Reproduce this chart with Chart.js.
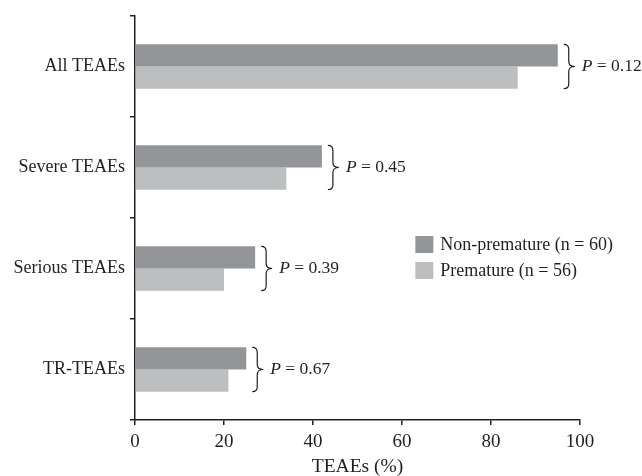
<!DOCTYPE html>
<html><head><meta charset="utf-8">
<script src="https://cdn.jsdelivr.net/npm/chart.js@4"></script>
<style>html,body{margin:0;padding:0;background:#fff}#w{width:642px;height:476px}</style>
</head><body><div id="w"><canvas id="c" width="642" height="476"></canvas></div>
<script>
const categories = ["All TEAEs", "Severe TEAEs", "Serious TEAEs", "TR-TEAEs"];
const nonPremature = [95, 42, 27, 25];
const premature = [86, 34, 20, 21];
const pValues = ["0.12", "0.45", "0.39", "0.67"];
const seriesLabels = ["Non-premature (n = 60)", "Premature (n = 56)"];
const xTicks = [0, 20, 40, 60, 80, 100];
const colors = ["#939598", "#bcbec0"];
const ink = "#231f20";
const FONT = "Liberation Serif";

const annot = {
  id: "annot",
  afterDatasetsDraw(chart) {
    const ctx = chart.ctx;
    const m0 = chart.getDatasetMeta(0), m1 = chart.getDatasetMeta(1);
    ctx.save();
    ctx.strokeStyle = ink; ctx.fillStyle = ink; ctx.lineWidth = 1.2;
    categories.forEach((c, i) => {
      const b0 = m0.data[i], b1 = m1.data[i];
      const xEnd = Math.max(b0.x, b1.x);
      const top = b0.y - b0.height / 2, bot = b1.y + b1.height / 2;
      const mid = (top + bot) / 2;
      const x0 = xEnd + 6, xv = x0 + 5, xp = x0 + 11;
      ctx.beginPath();
      ctx.moveTo(x0, top);
      ctx.quadraticCurveTo(xv, top, xv, top + 5);
      ctx.lineTo(xv, mid - 5);
      ctx.quadraticCurveTo(xv, mid, xp, mid);
      ctx.quadraticCurveTo(xv, mid, xv, mid + 5);
      ctx.lineTo(xv, bot - 5);
      ctx.quadraticCurveTo(xv, bot, x0, bot);
      ctx.stroke();
      ctx.textBaseline = "middle"; ctx.textAlign = "left";
      let tx = xEnd + 24;
      ctx.font = "italic 17.5px '" + FONT + "'";
      ctx.fillText("P", tx, mid);
      tx += ctx.measureText("P").width;
      ctx.font = "17.5px '" + FONT + "'";
      ctx.fillText(" = " + pValues[i], tx, mid);
    });
    // legend
    const xs = chart.scales.x;
    const lx = xs.getPixelForValue(63);
    const ys = chart.scales.y;
    const ly0 = (ys.getPixelForValue(1) + ys.getPixelForValue(2)) / 2 + 27;
    seriesLabels.forEach((lab, k) => {
      const cy = ly0 + k * 26;
      ctx.fillStyle = colors[k];
      ctx.fillRect(lx, cy - 9, 18, 17);
      ctx.fillStyle = ink;
      ctx.font = "18px '" + FONT + "'";
      ctx.textBaseline = "middle";
      ctx.fillText(lab, lx + 25, cy);
    });
    ctx.restore();
  }
};

new Chart(document.getElementById("c"), {
  type: "bar",
  data: {
    labels: categories,
    datasets: [
      { label: seriesLabels[0], data: nonPremature, backgroundColor: colors[0] },
      { label: seriesLabels[1], data: premature, backgroundColor: colors[1] }
    ]
  },
  options: {
    indexAxis: "y",
    responsive: false,
    animation: false,
    devicePixelRatio: 1,
    categoryPercentage: 0.44,
    barPercentage: 1,
    layout: { padding: { top: 16, right: 62, left: 0, bottom: 0 } },
    plugins: { legend: { display: false }, tooltip: { enabled: false } },
    scales: {
      x: {
        min: 0, max: 100,
        afterBuildTicks: s => { s.ticks = xTicks.map(v => ({ value: v })); },
        afterFit: s => { s.height = 56; },
        border: { display: true, color: ink, width: 1.5 },
        grid: { drawOnChartArea: false, drawTicks: true, tickLength: 5, color: ink, lineWidth: 1.5 },
        ticks: { color: ink, font: { family: FONT, size: 19 }, padding: 6 },
        title: { display: true, text: "TEAEs (%)", color: ink, font: { family: FONT, size: 19.5 }, padding: { top: 0, bottom: -3 } }
      },
      y: {
        afterFit: s => { s.width = 135; },
        border: { display: true, color: ink, width: 1.5 },
        grid: { offset: true, drawOnChartArea: false, drawTicks: true, tickLength: 5, color: ink, lineWidth: 1.5 },
        ticks: { color: ink, font: { family: FONT, size: 18 }, padding: 5 }
      }
    }
  },
  plugins: [annot]
});
</script>
</body></html>
